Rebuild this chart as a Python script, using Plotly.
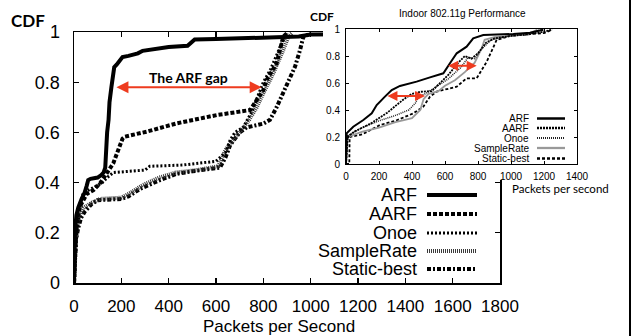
import plotly.graph_objects as go

W, H = 632, 336

# ---------------- main chart data (Packets per Second vs CDF) ----------------
series_names = ["ARF", "AARF", "Onoe", "SampleRate", "Static-best"]

arf_x = [0, 2, 4, 10, 18, 32, 45, 53, 60, 70, 100, 115, 125, 132, 135, 140, 146, 150, 158, 165, 170, 180,
         190, 205, 230, 270, 290, 350, 400, 480, 495, 510, 600, 800, 950, 1000, 1800]
arf_y = [0, 0.1, 0.2, 0.27, 0.30, 0.335, 0.36, 0.385, 0.41, 0.415, 0.42, 0.43, 0.44, 0.46, 0.55, 0.6, 0.65,
         0.72, 0.78, 0.82, 0.86, 0.87, 0.88, 0.9, 0.905, 0.915, 0.925, 0.935, 0.94, 0.945, 0.96, 0.97, 0.972,
         0.978, 0.982, 0.99, 0.995]

aarf_x = [0, 3, 8, 18, 25, 54, 82, 110, 145, 166, 187, 205, 215, 307, 434, 532, 603, 744, 772, 800, 814,
          856, 870, 884, 900]
aarf_y = [0, 0.1, 0.2, 0.28, 0.305, 0.355, 0.37, 0.397, 0.45, 0.477, 0.53, 0.575, 0.583, 0.603, 0.636,
          0.656, 0.669, 0.689, 0.729, 0.769, 0.809, 0.875, 0.928, 0.981, 0.995]

onoe_x = [0, 5, 12, 25, 39, 82, 120, 140, 166, 300, 320, 460, 600, 640, 660, 680, 715, 750, 780, 800, 830,
          856, 880, 900]
onoe_y = [0, 0.1, 0.2, 0.3, 0.36, 0.38, 0.4, 0.42, 0.44, 0.45, 0.465, 0.47, 0.485, 0.52, 0.57, 0.6, 0.62,
          0.68, 0.75, 0.8, 0.85, 0.91, 0.96, 0.995]

samplerate_x = [0, 4, 10, 20, 40, 75, 110, 200, 240, 290, 360, 430, 520, 610, 640, 680, 700, 740, 772, 800,
                842, 884, 905, 920]
samplerate_y = [0, 0.12, 0.2, 0.26, 0.3, 0.32, 0.335, 0.34, 0.36, 0.39, 0.42, 0.44, 0.45, 0.465, 0.53, 0.58,
                0.6, 0.65, 0.7, 0.756, 0.835, 0.928, 0.98, 0.995]

static_x = [0, 3, 8, 18, 30, 46, 75, 100, 200, 230, 279, 363, 434, 500, 617, 640, 660, 700, 730, 800, 828,
            856, 884, 912, 934, 955, 969, 1000]
static_y = [0, 0.1, 0.17, 0.22, 0.26, 0.285, 0.315, 0.33, 0.335, 0.345, 0.375, 0.41, 0.435, 0.445, 0.46, 0.5,
            0.55, 0.6, 0.62, 0.635, 0.65, 0.7, 0.756, 0.81, 0.862, 0.928, 0.98, 0.995]

main_x_ticks = [0, 200, 400, 600, 800, 1000, 1200, 1400, 1600, 1800]
main_y_ticks = [0, 0.2, 0.4, 0.6, 0.8, 1]
main_y_ticktext = ["0", "0.2", "0.4", "0.6", "0.8", "1"]

gap_arrow_x = [173, 793]
gap_arrow_y = 0.78

# ---------------- inset data (Indoor 802.11g) ----------------
in_arf_x = [0, 0, 4, 44, 105, 156, 186, 236, 277, 327, 428, 509, 590, 630, 671, 731, 771, 832, 1014, 1115, 1196]
in_arf_y = [0, 0.2, 0.227, 0.276, 0.326, 0.375, 0.437, 0.499, 0.548, 0.578, 0.61, 0.642, 0.672, 0.746, 0.82,
            0.869, 0.931, 0.956, 0.963, 0.973, 0.995]

in_aarf_x = [0, 10, 50, 150, 250, 300, 350, 400, 450, 520, 570, 620, 680, 720, 760, 800, 850, 900, 1000, 1100,
             1200, 1250]
in_aarf_y = [0, 0.2, 0.24, 0.3, 0.38, 0.43, 0.48, 0.52, 0.535, 0.54, 0.6, 0.66, 0.75, 0.8, 0.78, 0.82, 0.9,
             0.93, 0.95, 0.96, 0.98, 0.995]

in_onoe_x = [0, 10, 100, 200, 300, 380, 420, 440, 480, 560, 620, 700, 740, 780, 820, 880, 1000, 1100, 1180]
in_onoe_y = [0, 0.21, 0.27, 0.32, 0.36, 0.4, 0.45, 0.5, 0.52, 0.58, 0.63, 0.72, 0.79, 0.78, 0.85, 0.92, 0.95,
             0.96, 0.995]

in_samplerate_x = [0, 10, 100, 200, 300, 400, 450, 470, 500, 560, 600, 660, 720, 780, 820, 840, 900, 1100, 1160]
in_samplerate_y = [0, 0.2, 0.24, 0.27, 0.31, 0.34, 0.4, 0.48, 0.52, 0.54, 0.58, 0.62, 0.68, 0.75, 0.85, 0.92,
                   0.94, 0.96, 0.995]

in_static_x = [0, 20, 22, 100, 206, 300, 408, 469, 509, 550, 671, 731, 792, 853, 913, 1000, 1200, 1250]
in_static_y = [0, 0, 0.2, 0.22, 0.289, 0.32, 0.375, 0.425, 0.499, 0.536, 0.573, 0.635, 0.635, 0.758, 0.919,
               0.95, 0.97, 0.995]

in_x_ticks = [0, 200, 400, 600, 800, 1000, 1200, 1400]
in_y_ticks = [0, 0.2, 0.4, 0.6, 0.8, 1]
in_y_ticktext = ["0", "0.2", "0.4", "0.6", "0.8", "1"]

in_arrows = [([242, 479], 0.504), ([610, 792], 0.728)]

# ---------------- styles ----------------
ARIAL = "Liberation Sans, Arial, sans-serif"
CAL = "Lato, Carlito, Calibri, sans-serif"
RED = "#ee3b1f"

main_styles = {
    "ARF": dict(color="black", width=4, dash="solid"),
    "AARF": dict(color="black", width=4, dash="4px,2px"),
    "Onoe": dict(color="black", width=3, dash="2px,2px"),
    "SampleRate": dict(color="#3a3a3a", width=4, dash="1px,1px"),
    "Static-best": dict(color="black", width=4, dash="4px,2px,2px,2px"),
}
in_styles = {
    "ARF": dict(color="black", width=2, dash="solid"),
    "AARF": dict(color="black", width=1.8, dash="2px,1px"),
    "Onoe": dict(color="#222", width=1.5, dash="1px,1px"),
    "SampleRate": dict(color="#999999", width=1.8, dash="solid"),
    "Static-best": dict(color="black", width=1.8, dash="3px,2px"),
}

main_data = {
    "ARF": (arf_x, arf_y), "AARF": (aarf_x, aarf_y), "Onoe": (onoe_x, onoe_y),
    "SampleRate": (samplerate_x, samplerate_y), "Static-best": (static_x, static_y),
}
in_data = {
    "ARF": (in_arf_x, in_arf_y), "AARF": (in_aarf_x, in_aarf_y), "Onoe": (in_onoe_x, in_onoe_y),
    "SampleRate": (in_samplerate_x, in_samplerate_y), "Static-best": (in_static_x, in_static_y),
}


def pxx(x):
    return x / W


def pxy(y):
    return 1 - y / H


fig = go.Figure()

draw_order = ["Static-best", "SampleRate", "Onoe", "AARF", "ARF"]
for name in draw_order:
    xs, ys = main_data[name]
    fig.add_trace(go.Scatter(x=xs, y=ys, mode="lines", line=main_styles[name], showlegend=False,
                             hoverinfo="skip", xaxis="x", yaxis="y"))

# cover subplot (white panel of the inset picture)
fig.add_trace(go.Scatter(x=[], y=[], xaxis="x2", yaxis="y2", showlegend=False, hoverinfo="skip"))

for name in draw_order:
    xs, ys = in_data[name]
    fig.add_trace(go.Scatter(x=xs, y=ys, mode="lines", line=in_styles[name], showlegend=False,
                             hoverinfo="skip", xaxis="x3", yaxis="y3"))

axis_common = dict(showgrid=False, zeroline=False, ticks="inside", linecolor="black", tickcolor="black",
                   mirror="ticks", showline=True, automargin=False)

fig.update_layout(
    width=W, height=H, margin=dict(l=0, r=0, t=0, b=0, pad=0, autoexpand=False),
    paper_bgcolor="white", plot_bgcolor="white", showlegend=False,
    xaxis=dict(domain=[pxx(74), pxx(500)], range=[0, 1800], tickvals=main_x_ticks, ticklen=5, linewidth=1.5,
               tickwidth=1.2, tickfont=dict(family=ARIAL, size=17, color="black"), ticklabelstandoff=7,
               anchor="y", **axis_common),
    yaxis=dict(domain=[pxy(283), pxy(32)], range=[0, 1], tickvals=main_y_ticks, ticktext=main_y_ticktext,
               ticklen=5, linewidth=1.5, tickwidth=1.2, tickfont=dict(family=ARIAL, size=18, color="black"),
               ticklabelstandoff=9, anchor="x", **axis_common),
    xaxis2=dict(domain=[pxx(323), pxx(628)], range=[0, 1], visible=False, anchor="y2", automargin=False),
    yaxis2=dict(domain=[pxy(180), 1], range=[0, 1], visible=False, anchor="x2", automargin=False),
    xaxis3=dict(domain=[pxx(346), pxx(577)], range=[0, 1400], tickvals=in_x_ticks, ticklen=3, linewidth=1,
                tickwidth=1, tickfont=dict(family=ARIAL, size=10, color="black"), ticklabelstandoff=3,
                anchor="y3", **axis_common),
    yaxis3=dict(domain=[pxy(164), pxy(29)], range=[0, 1], tickvals=in_y_ticks, ticktext=in_y_ticktext,
                ticklen=3, linewidth=1, tickwidth=1, tickfont=dict(family=ARIAL, size=10, color="black"),
                ticklabelstandoff=3, anchor="x3", **axis_common),
)


def label(text, x, y, family, size, xanchor="center"):
    return dict(text=text, x=pxx(x), y=pxy(y), xref="paper", yref="paper", showarrow=False,
                xanchor=xanchor, yanchor="middle", font=dict(family=family, size=size, color="black"))


ann = []
ann.append(label("<b>CDF</b>", 28, 20, CAL, 17))
ann.append(label("Packets per Second", 279, 326, ARIAL, 17))
ann.append(label("<b>CDF</b>", 322, 16, CAL, 12))
ann.append(label("Indoor 802.11g Performance", 462, 14, ARIAL, 10))
ann.append(label("Packets per second", 560, 188, CAL, 11.5))
# ARF gap
ann.append(dict(text="<b>The ARF gap</b>", x=(gap_arrow_x[0] + gap_arrow_x[1]) / 2, y=0.818, xref="x", yref="y",
                xanchor="center", yanchor="middle", showarrow=False, font=dict(family=CAL, size=14, color="black")))
ann.append(dict(text="", x=gap_arrow_x[1], y=gap_arrow_y, ax=gap_arrow_x[0], ay=gap_arrow_y,
                xref="x", yref="y", axref="x", ayref="y", showarrow=True, arrowhead=2, arrowside="end+start",
                arrowsize=1.2, arrowwidth=2, arrowcolor=RED))
for (xa, yv) in in_arrows:
    ann.append(dict(text="", x=xa[1], y=yv, ax=xa[0], ay=yv, xref="x3", yref="y3", axref="x3", ayref="y3",
                    showarrow=True, arrowhead=2, arrowside="end+start", arrowsize=1, arrowwidth=2,
                    arrowcolor=RED))

shapes = []
# main legend
main_rows = [195, 214, 233, 251, 269]
for name, ry in zip(series_names, main_rows):
    ann.append(label(name, 419, ry, ARIAL, 18, xanchor="right"))
    st = main_styles[name]
    shapes.append(dict(type="line", xref="paper", yref="paper", x0=pxx(427), x1=pxx(477), y0=pxy(ry),
                       y1=pxy(ry), line=dict(color=st["color"], width=st["width"], dash=st["dash"])))
# inset legend
in_rows = [118.5, 128, 138, 148, 158.5]
for name, ry in zip(series_names, in_rows):
    ann.append(label(name, 531, ry, ARIAL, 10, xanchor="right"))
    st = in_styles[name]
    shapes.append(dict(type="line", xref="paper", yref="paper", x0=pxx(537), x1=pxx(565), y0=pxy(ry),
                       y1=pxy(ry), line=dict(color=st["color"], width=st["width"] + 0.5, dash=st["dash"])))
# right border line of the slide picture
shapes.append(dict(type="line", xref="paper", yref="paper", x0=pxx(630), x1=pxx(630), y0=0, y1=1,
                   line=dict(color="black", width=2)))

fig.update_layout(annotations=ann, shapes=shapes)
fig.write_html("out.html", config={"displayModeBar": False, "staticPlot": True},
               post_script="document.body.style.margin='0';")
